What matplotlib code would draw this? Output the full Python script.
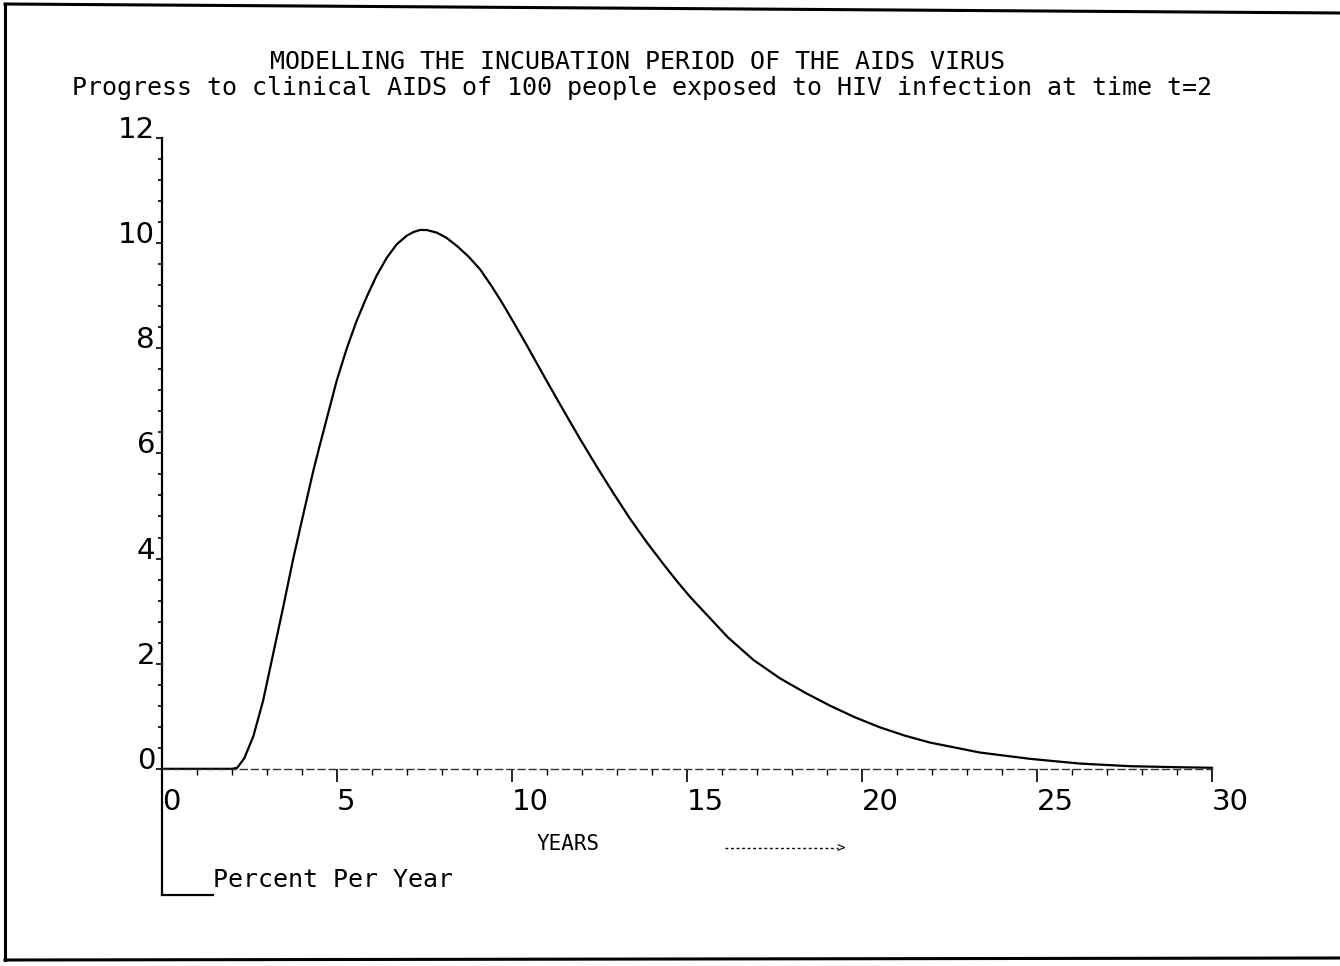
import numpy as np
import matplotlib
matplotlib.use('Agg')
import matplotlib.pyplot as plt
import matplotlib.ticker as mticker


################################################################################
# Data
################################################################################
years = [0, 2.0, 2.15, 2.35, 2.61, 2.89, 3.18, 3.47, 3.75, 4.04, 4.32, 4.51,
         4.99, 5.28, 5.56, 5.85, 6.13, 6.42, 6.71, 6.99, 7.18, 7.37, 7.56,
         7.85, 8.13, 8.42, 8.75, 9.09, 9.42, 9.75, 10.04, 10.42, 10.99,
         11.47, 11.94, 12.42, 12.89, 13.37, 13.85, 14.32, 14.7, 15.09, 16.17,
         16.9, 17.66, 18.37, 19.09, 19.8, 20.51, 21.23, 21.94, 23.37, 24.8,
         26.23, 27.66, 29.09, 30]
pct_per_year = [0, 0, 0.02, 0.2, 0.62, 1.3, 2.2, 3.1, 4.0, 4.85, 5.66, 6.16,
                7.38, 8.0, 8.52, 8.98, 9.38, 9.72, 9.98, 10.14, 10.21, 10.25,
                10.25, 10.2, 10.1, 9.95, 9.75, 9.5, 9.18, 8.83, 8.5, 8.06,
                7.38, 6.82, 6.28, 5.75, 5.25, 4.76, 4.31, 3.9, 3.58, 3.27,
                2.5, 2.07, 1.72, 1.45, 1.2, 0.98, 0.79, 0.63, 0.5, 0.31,
                0.19, 0.10, 0.05, 0.03, 0.02]
x_ticks = [0, 5, 10, 15, 20, 25, 30]
y_ticks = [0, 2, 4, 6, 8, 10, 12]

TITLE_1 = "MODELLING THE INCUBATION PERIOD OF THE AIDS VIRUS"
TITLE_2 = ("Progress to clinical AIDS of 100 people exposed to HIV "
           "infection at time t=2")
MONO = "DejaVu Sans Mono"

################################################################################
# Plot
################################################################################
W, H = 1340, 966
fig = plt.figure(figsize=(W / 100, H / 100), dpi=100)
fig.patch.set_facecolor('white')

# axes: x 0 -> px 162, 30 -> px 1212 ; y 12 -> px 138, -2.4 -> px 895
Y_LOW = -2.4
ax = fig.add_axes([162 / W, 1 - 895 / H, 1050 / W, 757 / H])
ax.set_xlim(0, 30)
ax.set_ylim(Y_LOW, 12)

ax.plot(years, pct_per_year, color='black', linewidth=1.6, clip_on=False,
        solid_joinstyle='round')

# spines
for s in ['top', 'right']:
    ax.spines[s].set_visible(False)
ax.spines['left'].set_bounds(Y_LOW, 12)
ax.spines['left'].set_linewidth(1.6)
ax.spines['bottom'].set_position(('data', 0))
ax.spines['bottom'].set_linestyle((0, (5, 3)))
ax.spines['bottom'].set_linewidth(1.0)
ax.spines['bottom'].set_color('#333333')

# little bracket under the y axis, next to "Percent Per Year"
ax.plot([0, 1.45], [Y_LOW, Y_LOW], color='black', linewidth=1.6,
        clip_on=False)

# ticks
ax.xaxis.set_major_locator(mticker.FixedLocator(x_ticks))
ax.xaxis.set_minor_locator(mticker.MultipleLocator(1))
ax.yaxis.set_major_locator(mticker.FixedLocator(y_ticks))
ax.yaxis.set_minor_locator(mticker.FixedLocator(np.arange(0, 12.01, 0.4)))
ax.tick_params(axis='x', which='major', direction='out', length=9,
               width=1.2, pad=5, labelsize=21)
ax.tick_params(axis='x', which='minor', direction='out', length=4, width=1)
ax.tick_params(axis='y', which='major', direction='out', length=4,
               width=1.2, pad=1, labelsize=21)
ax.tick_params(axis='y', which='minor', direction='out', length=3, width=1.2)
ax.set_xticklabels([str(v) for v in x_ticks])
ax.set_yticklabels([str(v) for v in y_ticks])
for lab in ax.get_xticklabels():
    lab.set_horizontalalignment('left')
for lab in ax.get_yticklabels():
    lab.set_verticalalignment('baseline')

# titles and labels
fig.text(637 / W, 1 - 62 / H, TITLE_1, family=MONO, fontsize=18,
         ha='center', va='center')
fig.text(642 / W, 1 - 88 / H, TITLE_2, family=MONO, fontsize=18,
         ha='center', va='center')
fig.text(568 / W, 1 - 844 / H, "YEARS", family=MONO, fontsize=15,
         ha='center', va='center')
fig.text(213 / W, 1 - 880 / H, "Percent Per Year", family=MONO,
         fontsize=18, ha='left', va='center')

# dotted arrow after YEARS
arrow_y = 1 - 848 / H
fig.add_artist(plt.Line2D([725 / W, 838 / W], [arrow_y, arrow_y],
                          color='black', linewidth=1, linestyle=(0, (2, 2))))
fig.text(836 / W, arrow_y, ">", family=MONO, fontsize=10,
         ha='left', va='center')

# page frame (top, left and bottom edges of the scanned sheet)
frame = dict(color='black', linewidth=2.2)
fig.add_artist(plt.Line2D([5 / W, 1.0], [1 - 4 / H, 1 - 13 / H], **frame))
fig.add_artist(plt.Line2D([5 / W, 5 / W], [1 - 4 / H, 1 - 960 / H], **frame))
fig.add_artist(plt.Line2D([5 / W, 1.0], [1 - 960 / H, 1 - 958 / H], **frame))

fig.savefig('out.png', dpi=100, facecolor='white')
plt.close(fig)
